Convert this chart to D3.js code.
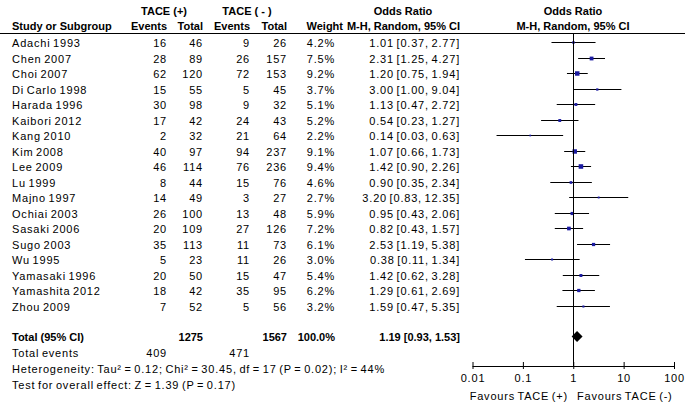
<!DOCTYPE html>
<html>
<head>
<meta charset="utf-8">
<script src="https://cdn.jsdelivr.net/npm/d3@7"></script>
<style>
  body { margin: 0; background: #fff; }
  svg text { font-family: "Liberation Sans", Arial, sans-serif; font-size: 11px; fill: #000; }
  .reg { letter-spacing: 0.8px; word-spacing: -1.2px; }
  .bold { font-weight: bold; }
</style>
</head>
<body>
<script>
// study rows
var studies = ["Adachi 1993","Chen 2007","Choi 2007","Di Carlo 1998","Harada 1996","Kaibori 2012","Kang 2010","Kim 2008","Lee 2009","Lu 1999","Majno 1997","Ochiai 2003","Sasaki 2006","Sugo 2003","Wu 1995","Yamasaki 1996","Yamashita 2012","Zhou 2009"];
var eventsT = [16,28,62,15,30,17,2,40,46,8,14,26,20,35,5,20,18,7];
var totalT  = [46,89,120,55,98,42,32,97,114,44,49,100,109,113,23,50,42,52];
var eventsC = [9,26,72,5,9,24,21,94,76,15,3,13,27,11,11,15,35,5];
var totalC  = [26,157,153,45,32,43,64,237,236,76,27,48,126,73,26,47,95,56];
var weights = [4.2,7.5,9.2,3.7,5.1,5.2,2.2,9.1,9.4,4.6,2.7,5.9,7.2,6.1,3.0,5.4,6.2,3.2];
var orVal   = [1.01,2.31,1.20,3.00,1.13,0.54,0.14,1.07,1.42,0.90,3.20,0.95,0.82,2.53,0.38,1.42,1.29,1.59];
var orLo    = [0.37,1.25,0.75,1.00,0.47,0.23,0.03,0.66,0.90,0.35,0.83,0.43,0.43,1.19,0.11,0.62,0.61,0.47];
var orHi    = [2.77,4.27,1.94,9.04,2.72,1.27,0.63,1.73,2.26,2.34,12.35,2.06,1.57,5.38,1.34,3.28,2.69,5.35];

// pooled result
var pooled = {or: 1.19, lo: 0.93, hi: 1.53};
var totals = {totalT: 1275, totalC: 1567, eventsT: 409, eventsC: 471};
var axisTicks = [0.01, 0.1, 1, 10, 100];

var W = 685, H = 404;
var svg = d3.select("body").append("svg").attr("width", W).attr("height", H);

var x = d3.scaleLog().domain([0.01, 100]).range([472.5, 674]);
var yRaw = d3.scaleLinear().domain([0, 1]).range([42, 57.5]);
var y = function(i) { return Math.round(yRaw(i)) + 0.5; };
var side = d3.scaleLinear().domain([2, 10]).range([1.6, 4.8]);

var fmt2 = d3.format(".2f");
var ciText = function(m, l, h) { return fmt2(m) + " [" + fmt2(l) + ", " + fmt2(h) + "]"; };

// numeric columns (right edge)
var cols = [
  {x: 167, get: function(i) { return eventsT[i]; }},
  {x: 203, get: function(i) { return totalT[i]; }},
  {x: 250, get: function(i) { return eventsC[i]; }},
  {x: 287, get: function(i) { return totalC[i]; }},
  {x: 335, get: function(i) { return weights[i].toFixed(1) + "%"; }},
  {x: 460, get: function(i) { return ciText(orVal[i], orLo[i], orHi[i]); }}
];

// headers
var head = svg.append("g").attr("class", "bold");
head.append("text").attr("x", 164).attr("y", 15).attr("text-anchor", "middle").text("TACE (+)");
head.append("text").attr("x", 247).attr("y", 15).attr("text-anchor", "middle").text("TACE ( - )");
head.append("text").attr("x", 403).attr("y", 15).attr("text-anchor", "middle").text("Odds Ratio");
head.append("text").attr("x", 573).attr("y", 15).attr("text-anchor", "middle").text("Odds Ratio");
head.append("text").attr("x", 12).attr("y", 30).text("Study or Subgroup");
[["Events",167],["Total",203],["Events",250],["Total",287],["Weight",343],["M-H, Random, 95% CI",460]].forEach(function(h) {
  head.append("text").attr("x", h[1]).attr("y", 30).attr("text-anchor", "end").text(h[0]);
});
head.append("text").attr("x", 573).attr("y", 30).attr("text-anchor", "middle").text("M-H, Random, 95% CI");
svg.append("line").attr("x1", 0).attr("x2", W).attr("y1", 33.5).attr("y2", 33.5).attr("stroke", "#000");

// study rows
var rows = svg.selectAll(".row").data(studies).enter().append("g").attr("class", "row");
rows.append("text").attr("class", "reg").attr("x", 12).attr("y", function(d, i) { return y(i) + 4; }).text(function(d) { return d; });
cols.forEach(function(c) {
  rows.append("text").attr("class", "reg").attr("x", c.x).attr("y", function(d, i) { return y(i) + 4; })
    .attr("text-anchor", "end").text(function(d, i) { return c.get(i); });
});

// null line
svg.append("line").attr("x1", Math.round(x(1)) + 0.5).attr("x2", Math.round(x(1)) + 0.5)
  .attr("y1", 34).attr("y2", 366).attr("stroke", "#000");

// whiskers and squares
rows.append("line")
  .attr("x1", function(d, i) { return x(orLo[i]); })
  .attr("x2", function(d, i) { return x(orHi[i]); })
  .attr("y1", function(d, i) { return y(i); })
  .attr("y2", function(d, i) { return y(i); })
  .attr("stroke", "#000");
rows.append("rect")
  .attr("x", function(d, i) { return x(orVal[i]) - side(weights[i]) / 2; })
  .attr("y", function(d, i) { return y(i) - side(weights[i]) / 2; })
  .attr("width", function(d, i) { return side(weights[i]); })
  .attr("height", function(d, i) { return side(weights[i]); })
  .attr("fill", "#1a1aa0");

// total row
var ty = 336.5;
var tot = svg.append("g").attr("class", "bold");
tot.append("text").attr("x", 12).attr("y", ty + 4).text("Total (95% CI)");
tot.append("text").attr("x", 203).attr("y", ty + 4).attr("text-anchor", "end").text(totals.totalT);
tot.append("text").attr("x", 287).attr("y", ty + 4).attr("text-anchor", "end").text(totals.totalC);
tot.append("text").attr("x", 335).attr("y", ty + 4).attr("text-anchor", "end").text("100.0%");
tot.append("text").attr("x", 460).attr("y", ty + 4).attr("text-anchor", "end").text(ciText(pooled.or, pooled.lo, pooled.hi));
svg.append("path")
  .attr("d", "M" + x(pooled.lo) + "," + ty + "L" + x(pooled.or) + "," + (ty - 5.5) + "L" + x(pooled.hi) + "," + ty + "L" + x(pooled.or) + "," + (ty + 5.5) + "Z")
  .attr("fill", "#000");

var foot = svg.append("g").attr("class", "reg");
foot.append("text").attr("x", 12).attr("y", 357).text("Total events");
foot.append("text").attr("x", 167).attr("y", 357).attr("text-anchor", "end").text(totals.eventsT);
foot.append("text").attr("x", 250).attr("y", 357).attr("text-anchor", "end").text(totals.eventsC);
foot.append("text").attr("x", 12).attr("y", 373).text("Heterogeneity: Tau\u00b2 = 0.12; Chi\u00b2 = 30.45, df = 17 (P = 0.02); I\u00b2 = 44%");
foot.append("text").attr("x", 12).attr("y", 389).text("Test for overall effect: Z = 1.39 (P = 0.17)");

// axis
var axisY = 366;
var ax = svg.append("g").attr("transform", "translate(0," + axisY + ")")
  .call(d3.axisBottom(x).tickValues(axisTicks).tickSize(3).tickFormat(function(d) { return String(d); }));
ax.select(".domain").attr("d", "M" + x(0.01) + ",0.5H" + x(100)).attr("stroke", "#000");
ax.selectAll(".tick line").attr("y1", -4).attr("y2", 3).attr("stroke", "#000");
ax.selectAll(".tick text").attr("class", "reg").attr("y", 8).attr("dy", "0.71em")
  .style("font-family", "'Liberation Sans', Arial, sans-serif").style("font-size", "11px").attr("fill", "#000");

svg.append("text").attr("class", "reg").attr("x", 568).attr("y", 400).attr("text-anchor", "end").text("Favours TACE (+)");
svg.append("text").attr("class", "reg").attr("x", 577).attr("y", 400).text("Favours TACE (-)");
</script>
</body>
</html>
